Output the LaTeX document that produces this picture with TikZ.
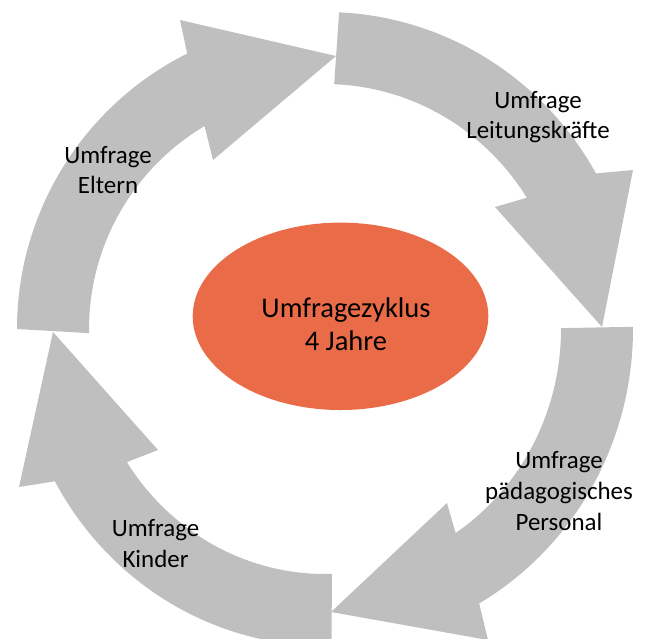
\documentclass[tikz,border=0pt]{standalone}
\usepackage{fontspec}
\setmainfont{Carlito}
\usetikzlibrary{calc}
\definecolor{arrowgray}{RGB}{191,191,191}
\definecolor{centerorange}{RGB}{234,107,72}
\begin{document}
\begin{tikzpicture}[x=0.5618pt, y=-0.5618pt,
  lbl/.style={font=\fontsize{14}{17}\selectfont, anchor=base, inner sep=0pt},
  ctr/.style={font=\fontsize{16}{19}\selectfont, anchor=base, inner sep=0pt},
  cycarrow/.style={fill=arrowgray}]
\useasboundingbox (0,0) rectangle (650,638);
\clip (0,0) rectangle (650,638);
% arrow 1: Eltern (left -> top)
\fill[cycarrow] ($(325,329)+(180:308 and 308)$)
  arc[start angle=180, end angle=243.43, x radius=308, y radius=308]
  -- (180,20) -- (336,56) -- (213,160)
  -- ($(325,329)+(239.3:236 and 236)$)
  arc[start angle=239.3, end angle=179, x radius=236, y radius=236] -- cycle;
% arrow 2: Leitungskraefte (top -> right)
\fill[cycarrow] ($(325,329)+(272.6:311 and 317)$)
  arc[start angle=272.6, end angle=330.6, x radius=311, y radius=317]
  -- (633,170) -- (602,327) -- (495,207)
  -- ($(325,329)+(327.6:239 and 245)$)
  arc[start angle=327.6, end angle=272.2, x radius=239, y radius=245] -- cycle;
% arrow 3: paedagogisches Personal (right -> bottom)
\fill[cycarrow] ($(325,329)+(-0.4:308 and 317)$)
  arc[start angle=-0.4, end angle=59.97, x radius=308, y radius=317]
  -- (488,640) -- (331,612) -- (447,503)
  -- ($(325,329)+(56.4:236 and 245)$)
  arc[start angle=56.4, end angle=-0.2, x radius=236, y radius=245] -- cycle;
% arrow 4: Kinder (bottom -> left)
\fill[cycarrow] ($(325,329)+(88.8:308 and 317)$)
  arc[start angle=88.8, end angle=151.3, x radius=308, y radius=317]
  -- (19,487) -- (53,332) -- (158,450)
  -- ($(325,329)+(147.1:236 and 245)$)
  arc[start angle=147.1, end angle=88.3, x radius=236, y radius=245] -- cycle;
% centre ellipse
\fill[centerorange] (340.5,316.3) ellipse[x radius=147.8, y radius=93.7];
% labels
\node[lbl] (eltA) at (108,163) {Umfrage};
\node[lbl] (eltB) at (108,193) {Eltern};
\node[lbl] (leiA) at (538,108) {Umfrage};
\node[lbl] (leiB) at (538,138) {Leitungskräfte};
\node[lbl] (paeA) at (559,468) {Umfrage};
\node[lbl] (paeB) at (559,499) {pädagogisches};
\node[lbl] (paeC) at (559,530) {Personal};
\node[lbl] (kinA) at (155.5,536) {Umfrage};
\node[lbl] (kinB) at (155.5,567) {Kinder};
\node[ctr] (zykA) at (346,317) {Umfragezyklus};
\node[ctr] (zykB) at (346,350) {4 Jahre};
\end{tikzpicture}
\end{document}
